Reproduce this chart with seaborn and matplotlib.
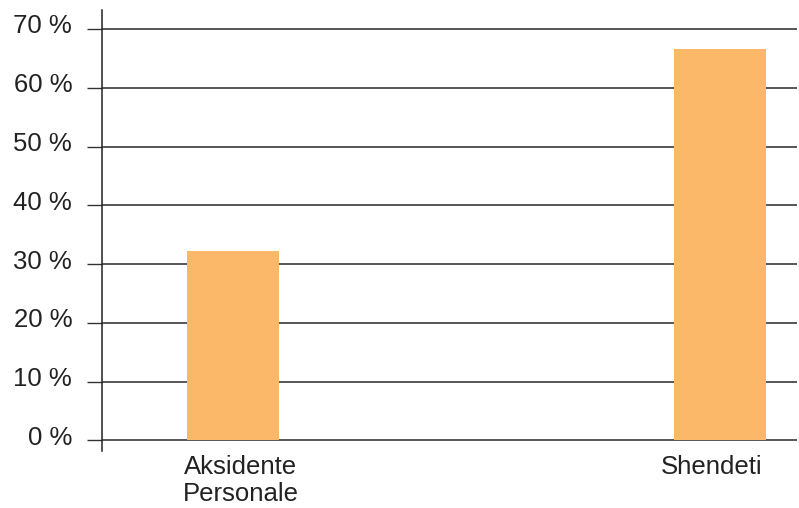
import matplotlib
matplotlib.use("Agg")
import matplotlib.pyplot as plt
import matplotlib.transforms as mtransforms
import seaborn as sns
import pandas as pd

categories = ["Aksidente\nPersonale", "Shendeti"]
values = [32.3, 66.6]
yticks = [0, 10, 20, 30, 40, 50, 60, 70]
ytick_labels = ["0 %", "10 %", "20 %", "30 %", "40 %", "50 %", "60 %", "70 %"]

sns.set_style("white")
plt.rcParams["font.family"] = ["Liberation Sans", "DejaVu Sans"]

df = pd.DataFrame({"cat": categories, "val": values})

fig = plt.figure(figsize=(7.99, 5.08), dpi=100)
ax = fig.add_axes([102/799, 1 - 451/508, (797 - 102)/799, (451 - 10)/508])

sns.barplot(data=df, x="cat", y="val", order=categories, color="#FBB868",
            saturation=1, width=0.189, ax=ax, edgecolor="none", linewidth=0)

ax.set_xlim(-0.269, 1.158)
ax.set_ylim(-1.79, 73.23)
ax.set_yticks(yticks)
ax.set_yticklabels(ytick_labels, fontsize=18.5, color="#222222")
ax.tick_params(axis="y", left=True, length=11, width=1, color="#333333",
               pad=10.5, direction="out")
ax.tick_params(axis="x", bottom=False, length=0, pad=3, labelsize=18.5,
               labelcolor="#222222")
ax.set_xlabel("")
ax.set_ylabel("")
ax.set_axisbelow(True)
ax.yaxis.grid(True, color="#3a3a3a", linewidth=1.2)
ax.xaxis.grid(False)
for s in ["top", "right", "bottom"]:
    ax.spines[s].set_visible(False)
ax.spines["left"].set_color("#222222")
ax.spines["left"].set_linewidth(1.1)

x_shifts_px = [8, -8]
for lbl, dx in zip(ax.get_xticklabels(), x_shifts_px):
    lbl.set_linespacing(1.15)
    lbl.set_transform(lbl.get_transform() +
                      mtransforms.ScaledTranslation(dx/100, 0, fig.dpi_scale_trans))
shift = mtransforms.ScaledTranslation(0, 5/100, fig.dpi_scale_trans)
for lbl in ax.get_yticklabels():
    lbl.set_transform(lbl.get_transform() + shift)

fig.savefig("out.png", dpi=100)
